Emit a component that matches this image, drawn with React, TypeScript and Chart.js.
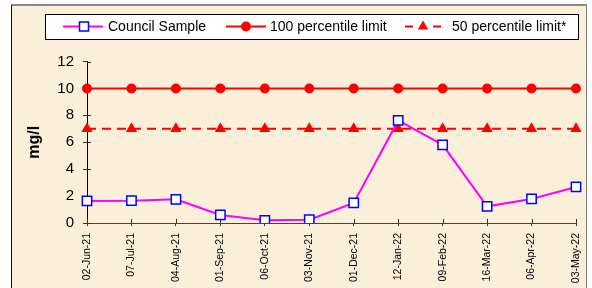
import React, { useEffect, useRef } from "react";
import { Chart, registerables } from "chart.js";

Chart.register(...registerables);

const categories = [
  "02-Jun-21", "07-Jul-21", "04-Aug-21", "01-Sep-21", "06-Oct-21", "03-Nov-21",
  "01-Dec-21", "12-Jan-22", "09-Feb-22", "16-Mar-22", "06-Apr-22", "03-May-22",
];
const councilSample = [1.64, 1.66, 1.76, 0.6, 0.2, 0.25, 1.49, 7.62, 5.81, 1.24, 1.79, 2.68];
const limit100 = [10, 10, 10, 10, 10, 10, 10, 10, 10, 10, 10, 10];
const limit50 = [7, 7, 7, 7, 7, 7, 7, 7, 7, 7, 7, 7];
const seriesNames = ["Council Sample", "100 percentile limit", "50 percentile limit*"];
const yTicks = [0, 2, 4, 6, 8, 10, 12];

const FONT = "Arial, 'Liberation Sans', sans-serif";

const innerTicks = {
  id: "innerTicks",
  beforeDatasetsDraw(chart: any) {
    const ctx = chart.ctx;
    const x = chart.scales.x;
    const y = chart.scales.y;
    const area = chart.chartArea;
    ctx.save();
    ctx.strokeStyle = "#333";
    ctx.lineWidth = 1;
    ctx.beginPath();
    categories.forEach((_, i) => {
      const px = Math.round(x.getPixelForValue(i)) + 0.5;
      ctx.moveTo(px, area.bottom);
      ctx.lineTo(px, area.bottom - 4);
    });
    yTicks.forEach((v) => {
      const py = Math.round(y.getPixelForValue(v)) + 0.5;
      ctx.moveTo(area.left, py);
      ctx.lineTo(area.left + 4, py);
    });
    ctx.stroke();
    ctx.restore();
  },
};

const customLegend = {
  id: "customLegend",
  afterDraw(chart: any) {
    const ctx = chart.ctx;
    ctx.save();
    const top = 14.5, bottom = 39.5, left = 45.5, right = 578.5;
    const cy = 26.5;
    ctx.fillStyle = "#ffffff";
    ctx.fillRect(left, top, right - left, bottom - top);
    ctx.strokeStyle = "#000";
    ctx.lineWidth = 1;
    ctx.strokeRect(left, top, right - left, bottom - top);

    ctx.font = `14px ${FONT}`;
    ctx.fillStyle = "#000";
    ctx.textBaseline = "middle";
    ctx.textAlign = "left";

    // item 1
    ctx.strokeStyle = "#ff00ff";
    ctx.lineWidth = 2;
    ctx.beginPath();
    ctx.moveTo(63, cy);
    ctx.lineTo(103, cy);
    ctx.stroke();
    ctx.fillStyle = "#fff";
    ctx.fillRect(79.5, cy - 4.5, 9, 9);
    ctx.strokeStyle = "#0000ff";
    ctx.lineWidth = 1.5;
    ctx.strokeRect(79.5, cy - 4.5, 9, 9);
    ctx.fillStyle = "#000";
    ctx.fillText(seriesNames[0], 108, cy + 1);

    // item 2
    ctx.strokeStyle = "#ff0000";
    ctx.lineWidth = 2;
    ctx.beginPath();
    ctx.moveTo(226, cy);
    ctx.lineTo(266, cy);
    ctx.stroke();
    ctx.fillStyle = "#ff0000";
    ctx.beginPath();
    ctx.arc(246, cy, 5, 0, Math.PI * 2);
    ctx.fill();
    ctx.fillStyle = "#000";
    ctx.fillText(seriesNames[1], 270, cy + 1);

    // item 3
    ctx.strokeStyle = "#ff0000";
    ctx.lineWidth = 2;
    ctx.beginPath();
    ctx.moveTo(405, cy); ctx.lineTo(413, cy);
    ctx.moveTo(433, cy); ctx.lineTo(441, cy);
    ctx.stroke();
    ctx.fillStyle = "#ff0000";
    ctx.beginPath();
    const r = 6;
    ctx.moveTo(423, cy - r);
    ctx.lineTo(423 + r * 0.866, cy + r / 2);
    ctx.lineTo(423 - r * 0.866, cy + r / 2);
    ctx.closePath();
    ctx.fill();
    ctx.fillStyle = "#000";
    ctx.fillText(seriesNames[2], 452, cy + 1);
    ctx.restore();
  },
};

export default function App() {
  const ref = useRef<HTMLCanvasElement | null>(null);
  useEffect(() => {
    document.body.style.margin = "0";
    const canvas = ref.current;
    if (!canvas) return;
    const chart = new Chart(canvas, {
      type: "line",
      data: {
        labels: categories,
        datasets: [
          {
            label: seriesNames[0],
            data: councilSample,
            borderColor: "#ff00ff",
            borderWidth: 2,
            pointStyle: "rect",
            pointRadius: 6.6,
            pointBackgroundColor: "#ffffff",
            pointBorderColor: "#0000ff",
            pointBorderWidth: 1.5,
            tension: 0,
          },
          {
            label: seriesNames[1],
            data: limit100,
            borderColor: "#ff0000",
            borderWidth: 2,
            pointStyle: "circle",
            pointRadius: 5,
            pointBackgroundColor: "#ff0000",
            pointBorderColor: "#ff0000",
            pointBorderWidth: 0,
          },
          {
            label: seriesNames[2],
            data: limit50,
            borderColor: "#ff0000",
            borderWidth: 2,
            borderDash: [9, 6],
            pointStyle: "triangle",
            pointRadius: 6.5,
            pointBackgroundColor: "#ff0000",
            pointBorderColor: "#ff0000",
            pointBorderWidth: 0,
          },
        ],
      },
      options: {
        animation: false,
        responsive: false,
        maintainAspectRatio: false,
        events: [],
        layout: { padding: { left: 0, right: 16, top: 61.5, bottom: 0 } },
        plugins: {
          legend: { display: false },
          tooltip: { enabled: false },
        },
        scales: {
          x: {
            offset: false,
            grid: {
              drawOnChartArea: false,
              drawTicks: true,
              tickLength: 3,
              color: "#333",
            },
            border: { color: "#444", width: 1 },
            ticks: {
              autoSkip: false,
              minRotation: 90,
              maxRotation: 90,
              padding: 7,
              color: "#000",
              font: { family: FONT, size: 10.5 },
            },
            afterFit(scale: any) {
              scale.height = 65;
              scale.paddingLeft = 0;
              scale.paddingRight = 0;
            },
          },
          y: {
            min: 0,
            max: 12,
            ticks: {
              stepSize: 2,
              padding: 9,
              color: "#000",
              font: { family: FONT, size: 15 },
            },
            grid: {
              drawOnChartArea: false,
              drawTicks: true,
              tickLength: 4,
              color: "#333",
            },
            border: { color: "#000", width: 1 },
            title: {
              display: true,
              text: "mg/l",
              color: "#000",
              font: { family: FONT, size: 16, weight: "bold" },
              padding: { top: 24.5, bottom: 0 },
            },
            afterFit(scale: any) {
              scale.width = 87;
              scale.paddingTop = 0;
              scale.paddingBottom = 0;
            },
          },
        },
      },
      plugins: [innerTicks, customLegend],
    });
    return () => chart.destroy();
  }, []);

  return (
    <div style={{ position: "relative", width: 592, height: 288, background: "#ffffff", overflow: "hidden" }}>
      <div
        style={{
          position: "absolute",
          left: 11,
          top: 4,
          width: 574,
          height: 300,
          background: "#faf0da",
          borderLeft: "1.5px solid #111",
          borderTop: "2px solid #888",
          borderRight: "1px solid #777",
        }}
      />
      <canvas
        ref={ref}
        width={592}
        height={288}
        style={{ position: "absolute", left: 0, top: 0, width: 592, height: 288 }}
      />
    </div>
  );
}
